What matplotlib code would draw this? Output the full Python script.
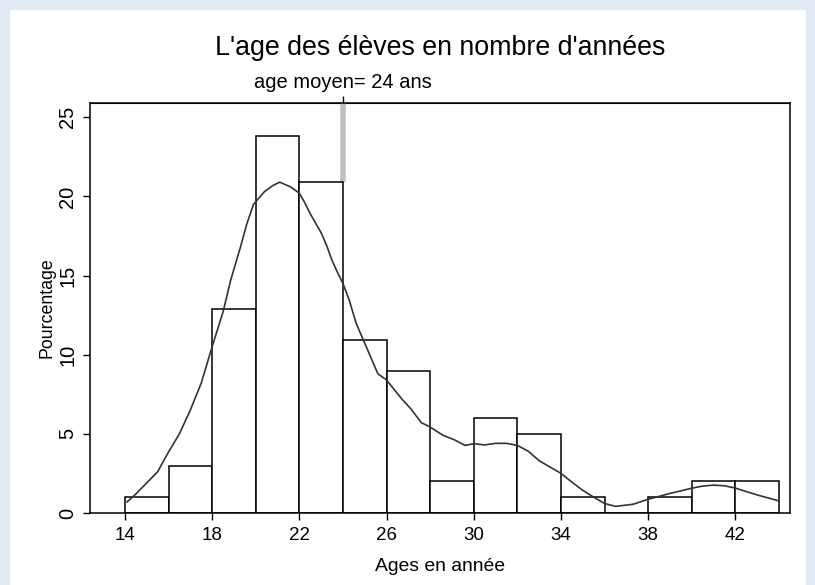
import matplotlib
matplotlib.use("Agg")
import matplotlib.pyplot as plt
from matplotlib.patches import Rectangle

plt.rcParams['font.family'] = ['Liberation Sans', 'DejaVu Sans']

# ======================== DATA ========================
bin_left = [14, 16, 18, 20, 22, 24, 26, 28, 30, 32, 34, 36, 38, 40, 42]
pct = [1.0, 3.0, 12.9, 23.8, 20.9, 10.9, 9.0, 2.0, 6.0, 5.0, 1.0, 0.0, 1.0, 2.0, 2.0]
bin_width = 2

# kernel density curve (in percent)
kde_x = [14.1, 14.5, 15.0, 15.5, 16.0, 16.5, 17.0, 17.5, 18.0, 18.5, 18.85, 19.3,
         19.6, 19.9, 20.4, 20.8, 21.1, 21.6, 22.0, 22.25, 22.5, 22.75, 23.0, 23.25,
         23.5, 23.75, 24.0, 24.3, 24.6, 25.1, 25.6,
         26.0, 26.7, 27.1, 27.6, 27.95, 28.6, 29.1, 29.6, 30.0, 30.5, 31.0, 31.5,
         32.0, 32.5, 33.0, 33.5, 34.0, 34.5, 35.0, 35.5, 36.0, 36.5, 37.3, 38.0,
         38.5, 39.0, 39.5, 40.0, 40.5, 41.0, 41.5, 42.0, 42.5, 43.0, 43.5, 44.0]
kde_y = [0.7, 1.2, 1.9, 2.6, 3.85, 5.0, 6.5, 8.2, 10.5, 12.7, 14.7, 16.8,
         18.3, 19.5, 20.3, 20.7, 20.9, 20.6, 20.2, 19.6, 18.9, 18.3, 17.7, 16.9,
         15.95, 15.2, 14.5, 13.4, 12.0, 10.4, 8.8,
         8.4, 7.2, 6.6, 5.7, 5.47, 4.9, 4.63, 4.27, 4.38, 4.3, 4.4, 4.4,
         4.27, 3.9, 3.3, 2.9, 2.5, 1.95, 1.43, 1.0, 0.6, 0.42, 0.55, 0.87,
         1.05, 1.24, 1.4, 1.57, 1.7, 1.76, 1.72, 1.57, 1.35, 1.14, 0.95, 0.76]

mean_age = 24
x_ticks = [14, 18, 22, 26, 30, 34, 38, 42]
y_ticks = [0, 5, 10, 15, 20, 25]

# ======================== FIGURE ========================
fig = plt.figure(figsize=(8.15, 5.85), dpi=100)
fig.patch.set_facecolor('#dfeaf4')
fig.patches.append(Rectangle((10 / 815, 0), 796 / 815, 575 / 585,
                             transform=fig.transFigure, facecolor='white',
                             edgecolor='none', zorder=-10))

ax = fig.add_axes([90 / 815, 1 - 513 / 585, 700 / 815, 410 / 585])
ax.set_facecolor('white')

ax.bar(bin_left, pct, width=bin_width, align='edge', facecolor='white',
       edgecolor='black', linewidth=1.1, zorder=2)
ax.plot(kde_x, kde_y, color='#333333', linewidth=1.2, zorder=3)

# mean line from the bar top up to the frame
mean_bar_top = pct[bin_left.index(22)]
ax.plot([mean_age, mean_age], [mean_bar_top, 30], color='#c0c0c0',
        linewidth=4, zorder=1, solid_capstyle='butt')

ax.set_xlim(12.4, 44.5)
ax.set_ylim(0, 25.9)
ax.set_xticks(x_ticks)
ax.set_yticks(y_ticks)
ax.tick_params(axis='both', direction='out', length=5, width=1,
               colors='black')
ax.tick_params(axis='x', labelsize=13.5, pad=5)
ax.tick_params(axis='y', labelsize=14.5, labelrotation=90, pad=4)
for lab in ax.get_yticklabels():
    lab.set_va('center')
for sp in ax.spines.values():
    sp.set_linewidth(1.1)

ax.set_xlabel('Ages en année', fontsize=13.9, labelpad=10)
ax.set_ylabel('Pourcentage', fontsize=12.8, labelpad=2)

top = ax.secondary_xaxis('top')
top.set_xticks([mean_age])
top.set_xticklabels(['age moyen= %d ans' % mean_age])
top.tick_params(direction='out', length=5, width=1, labelsize=14.5, pad=3)

fig.text(440 / 815, 1 - 48 / 585, "L'age des élèves en nombre d'années",
         ha='center', va='center', fontsize=19.3)

fig.savefig('out.png', dpi=100)
